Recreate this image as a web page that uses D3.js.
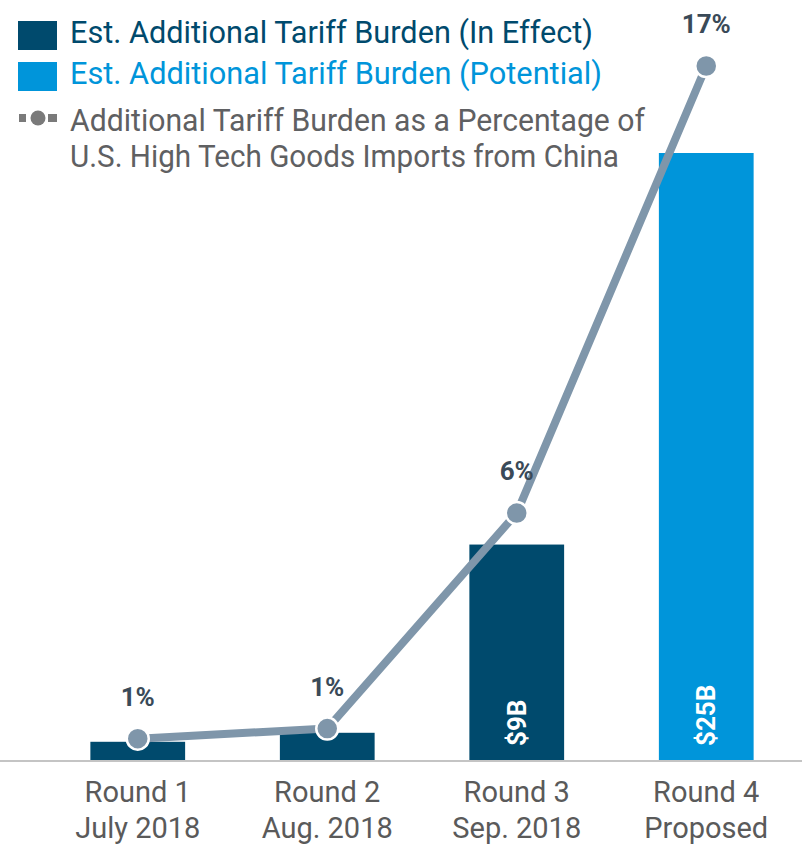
<!DOCTYPE html>
<html>
<head>
<meta charset="utf-8">
<script src="https://cdn.jsdelivr.net/npm/d3@7"></script>
<style>
  body { margin: 0; background: #fff; }
  svg text { font-family: Roboto, "Noto Sans", sans-serif; }
</style>
</head>
<body>
<div id="chart"></div>
<script>
// data
var rounds = ["Round 1", "Round 2", "Round 3", "Round 4"];
var roundDates = ["July 2018", "Aug. 2018", "Sep. 2018", "Proposed"];
var burdenBillions = [0.79, 1.16, 8.9, 25];
var burdenStatus = ["effect", "effect", "effect", "potential"];
var barLabels = ["", "", "$9B", "$25B"];
var burdenPct = [0.45, 0.7, 6, 17];
var pctLabels = ["1%", "1%", "6%", "17%"];

var legendItems = [
    {key: "effect", lines: ["Est. Additional Tariff Burden (In Effect)"]},
    {key: "potential", lines: ["Est. Additional Tariff Burden (Potential)"]},
    {key: "line", lines: ["Additional Tariff Burden as a Percentage of", "U.S. High Tech Goods Imports from China"]}
];

var colors = {effect: "#004a6d", potential: "#0095da", line: "#7f96aa"};
var legendText = {effect: "#004a6d", potential: "#0095da", line: "#5f6062"};

var width = 802, height = 844;

var svg = d3.select("#chart").append("svg")
    .attr("width", width)
    .attr("height", height);

var x = d3.scaleBand()
    .domain(rounds)
    .range([43, 801])
    .paddingInner(0.5)
    .paddingOuter(0.25);

var yBar = d3.scaleLinear()
    .domain([0, 25])
    .range([761, 153]);

var yPct = d3.scaleLinear()
    .domain([0, 17])
    .range([757, 66]);

// bars
svg.selectAll(".bar")
    .data(rounds)
    .enter()
    .append("rect")
    .attr("class", "bar")
    .attr("x", function (d) { return x(d); })
    .attr("width", x.bandwidth())
    .attr("y", function (d, i) { return yBar(burdenBillions[i]); })
    .attr("height", function (d, i) { return yBar(0) - yBar(burdenBillions[i]); })
    .attr("fill", function (d, i) { return colors[burdenStatus[i]]; });

// value labels inside bars, rotated
svg.selectAll(".bar-label")
    .data(rounds)
    .enter()
    .append("text")
    .attr("class", "bar-label")
    .attr("transform", function (d) {
        return "translate(" + (x(d) + x.bandwidth() / 2 + 9) + "," + (yBar(0) - 15) + ") rotate(-90)";
    })
    .attr("fill", "#fff")
    .attr("font-weight", "bold")
    .attr("font-size", "26px")
    .text(function (d, i) { return barLabels[i]; });

// baseline axis
var xAxis = d3.axisBottom(x).tickSize(0).tickFormat("");
var gx = svg.append("g")
    .attr("transform", "translate(0," + yBar(0) + ")")
    .call(xAxis);
gx.select(".domain")
    .attr("d", "M0,0H" + width)
    .attr("stroke", "#c4c4c4")
    .attr("stroke-width", 2);

// category labels
var cat = svg.selectAll(".cat")
    .data(rounds)
    .enter()
    .append("text")
    .attr("class", "cat")
    .attr("text-anchor", "middle")
    .attr("fill", "#5a5a5a")
    .attr("font-size", "29px");
cat.append("tspan")
    .attr("x", function (d) { return x(d) + x.bandwidth() / 2; })
    .attr("y", 802)
    .text(function (d) { return d; });
cat.append("tspan")
    .attr("x", function (d) { return x(d) + x.bandwidth() / 2; })
    .attr("y", 838)
    .text(function (d, i) { return roundDates[i]; });

// percentage line
var line = d3.line()
    .x(function (d, i) { return x(rounds[i]) + x.bandwidth() / 2; })
    .y(function (d) { return yPct(d); });

svg.append("path")
    .datum(burdenPct)
    .attr("d", line)
    .attr("fill", "none")
    .attr("stroke", colors.line)
    .attr("stroke-width", 8)
    .attr("stroke-linejoin", "round");

svg.selectAll(".dot")
    .data(burdenPct)
    .enter()
    .append("circle")
    .attr("cx", function (d, i) { return x(rounds[i]) + x.bandwidth() / 2; })
    .attr("cy", function (d) { return yPct(d); })
    .attr("r", 11)
    .attr("fill", colors.line)
    .attr("stroke", "#fff")
    .attr("stroke-width", 2.5);

svg.selectAll(".pct-label")
    .data(burdenPct)
    .enter()
    .append("text")
    .attr("class", "pct-label")
    .attr("x", function (d, i) { return x(rounds[i]) + x.bandwidth() / 2; })
    .attr("y", function (d) { return yPct(d) - 33; })
    .attr("text-anchor", "middle")
    .attr("fill", "#3a4a58")
    .attr("font-weight", "bold")
    .attr("font-size", "26px")
    .text(function (d, i) { return pctLabels[i]; });

// legend
var legendBaselines = [[43], [84], [131, 167]];
var legendLengths = [[523], [532], [575, 549]];

legendItems.forEach(function (item, i) {
    var g = svg.append("g").attr("class", "legend");
    if (item.key === "line") {
        var cy = legendBaselines[i][0] - 13;
        g.append("rect").attr("x", 19).attr("y", cy - 4).attr("width", 7).attr("height", 8).attr("fill", "#7a7a7a");
        g.append("rect").attr("x", 48).attr("y", cy - 4).attr("width", 9).attr("height", 8).attr("fill", "#7a7a7a");
        g.append("circle").attr("cx", 38).attr("cy", cy).attr("r", 7.5).attr("fill", "#7a7a7a");
    } else {
        g.append("rect")
            .attr("x", 18)
            .attr("y", legendBaselines[i][0] - 22)
            .attr("width", 39)
            .attr("height", 29)
            .attr("fill", colors[item.key]);
    }
    item.lines.forEach(function (t, j) {
        g.append("text")
            .attr("x", 70)
            .attr("y", legendBaselines[i][j])
            .attr("fill", legendText[item.key])
            .attr("font-size", "31px")
            .attr("textLength", legendLengths[i][j])
            .attr("lengthAdjust", "spacingAndGlyphs")
            .text(t);
    });
});
</script>
</body>
</html>
